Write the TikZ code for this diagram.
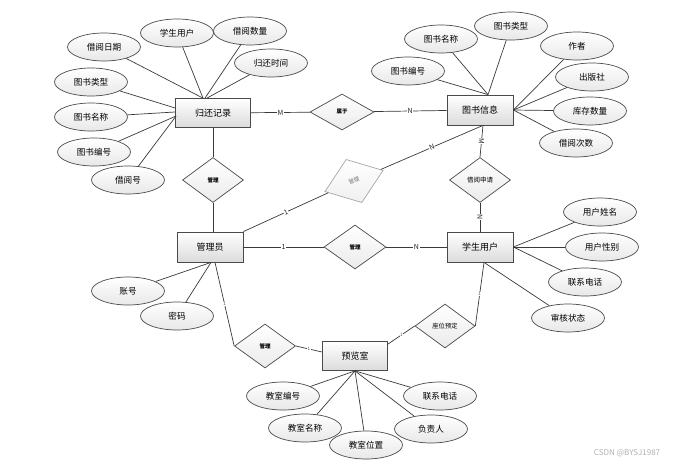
\documentclass[tikz,border=0pt]{standalone}
\usepackage{fontspec}
\setmainfont{Noto Sans CJK SC}
\usetikzlibrary{shapes.geometric,calc}
\definecolor{edgec}{HTML}{3A3A3A}
\definecolor{bordc}{HTML}{4A4A4A}
\tikzset{
  entity/.style={rectangle,draw=bordc,line width=0.8pt,top color=white,bottom color=black!14,
    minimum width=66pt,minimum height=30pt,inner sep=0pt,font=\fontsize{9}{10}\selectfont},
  attr/.style={ellipse,draw=bordc,line width=0.7pt,top color=white,bottom color=black!9,
    minimum width=73pt,minimum height=28pt,inner sep=0pt,font=\fontsize{8.6}{10}\selectfont},
  rel/.style={diamond,draw=bordc,line width=0.7pt,top color=white,bottom color=black!8,
    minimum width=61pt,minimum height=45pt,inner sep=0pt,font=\bfseries\fontsize{5.5}{6}\selectfont},
  grel/.style={rel,draw=black!35,top color=white,bottom color=black!6,text=black!55,font=\fontsize{5.5}{6}\selectfont},
  conn/.style={draw=edgec,line width=0.7pt},
  lbl/.style={fill=white,inner sep=0.8pt,font=\fontsize{7}{8}\selectfont,text=black!85},
  tick/.style={fill=white,inner sep=0.3pt,font=\fontsize{4.5}{5}\selectfont,text=black!70},
}
\begin{document}
\begin{tikzpicture}[x=1pt,y=-1pt]
\useasboundingbox[fill=white] (0,0) rectangle (684,468);

% entities
\node[entity,minimum width=75pt,minimum height=29pt] (gh) at (213,113) {归还记录};
\node[entity] (ts) at (480,110) {图书信息};
\node[entity] (admin) at (210,247) {管理员};
\node[entity] (xs) at (480,247) {学生用户};
\node[entity,minimum width=65pt,minimum height=29pt] (yl) at (355,356) {预览室};

% relationships
\node[rel,minimum width=64pt,minimum height=36pt] (sy) at (342,112) {属于};
\node[rel] (gl1) at (213,180) {管理};
\node[grel,rotate=20,minimum width=62pt,minimum height=46pt] (gd) at (354,181) {管理};
\node[rel,font=\fontsize{6.5}{7}\selectfont] (jy) at (480,180) {借阅申请};
\node[rel,minimum width=62pt,minimum height=44pt] (gl2) at (355,247) {管理};
\node[rel,minimum height=44pt] (gl3) at (265,346) {管理};
\node[rel,minimum width=60pt,minimum height=44pt,font=\fontsize{6.3}{7}\selectfont] (zw) at (445,326) {座位预定};

% relationship connectors
\draw[conn] (gh) -- node[lbl]{M} (sy);
\draw[conn] (sy) -- node[lbl]{N} (ts);
\draw[conn] (gh) -- (gl1);
\draw[conn] (gl1) -- (gl1 |- admin.north);
\draw[conn] (admin.north east) -- node[lbl,sloped,inner sep=0.3pt]{1} (gd);
\coordinate (tsb) at ($(ts.south)+(3,0)$);
\draw[conn] (gd) -- node[lbl,sloped,inner sep=0.3pt]{N} (tsb);
\draw[conn] (tsb) -- node[lbl,rotate=-90,inner sep=0.3pt]{M} (jy.north);
\draw[conn] (jy) -- node[lbl,rotate=-90,inner sep=0.3pt]{N} (xs);
\draw[conn] (admin) -- node[lbl]{1} (gl2);
\draw[conn] (gl2) -- node[lbl]{N} (xs);
\coordinate (adb) at ($(admin.south)+(5,0)$);
\draw[conn] (adb) -- node[tick]{1} (gl3.west);
\coordinate (ylw) at ($(yl.west)+(0,-4)$);
\draw[conn] (gl3.east) -- node[tick]{1} (ylw);
\coordinate (yle) at ($(yl.north east)+(0,3)$);
\draw[conn] (yle) -- node[tick]{1} (zw.west);
\coordinate (xsb) at ($(xs.south)+(4,0)$);
\draw[conn] (zw.east) -- node[tick]{1} (xsb);

% attributes of 归还记录
\node[attr] (a1) at (104,47) {借阅日期};
\node[attr] (a2) at (177,33) {学生用户};
\node[attr] (a3) at (250,31) {借阅数量};
\node[attr] (a4) at (271,63) {归还时间};
\node[attr] (a5) at (91,82) {图书类型};
\node[attr] (a6) at (91,117) {图书名称};
\node[attr] (a7) at (94,152) {图书编号};
\node[attr] (a8) at (128,180) {借阅号};
\draw[conn] (a1) -- ($(gh.north)+(-10,0)$);
\draw[conn] (a2) -- ($(gh.north)+(-10,0)$);
\draw[conn] (a3) -- ($(gh.north)+(-8,0)$);
\draw[conn] (a4) -- ($(gh.north)+(-6,0)$);
\draw[conn] (a5) -- ($(gh.west)+(0,-5)$);
\draw[conn] (a6) -- ($(gh.west)+(0,-1)$);
\draw[conn] (a7) -- ($(gh.west)+(1,3)$);
\draw[conn] (a8) -- ($(gh.west)+(1,3)$);

% attributes of 图书信息
\node[attr] (b1) at (408,71) {图书编号};
\node[attr] (b2) at (441,39) {图书名称};
\node[attr] (b3) at (511,26) {图书类型};
\node[attr] (b4) at (577,46) {作者};
\node[attr] (b5) at (592,77) {出版社};
\node[attr] (b6) at (590,111) {库存数量};
\node[attr] (b7) at (576,143) {借阅次数};
\coordinate (tst) at ($(ts.north)+(8,0)$);
\draw[conn] (b1) -- (tst);
\draw[conn] (b2) -- (tst);
\draw[conn] (b3) -- (tst);
\draw[conn] (b4) -- (ts.east);
\draw[conn] (b5) -- (ts.east);
\draw[conn] (b6) -- (ts.east);
\draw[conn] (b7) -- (ts.east);

% attributes of 学生用户
\node[attr] (c1) at (600,212) {用户姓名};
\node[attr] (c2) at (602,247) {用户性别};
\node[attr] (c3) at (585,282) {联系电话};
\node[attr] (c4) at (568,318) {审核状态};
\draw[conn] (c1) -- (xs.east);
\draw[conn] (c2) -- (xs.east);
\draw[conn] (c3) -- (xs.east);
\draw[conn] (c4) -- (xsb);

% attributes of 管理员
\node[attr] (d1) at (128,291) {账号};
\node[attr] (d2) at (177,316) {密码};
\coordinate (adb2) at ($(admin.south)+(1,0)$);
\draw[conn] (d1) -- (adb2);
\draw[conn] (d2) -- (adb2);

% attributes of 预览室
\node[attr] (e1) at (283,396) {教室编号};
\node[attr] (e2) at (305,428) {教室名称};
\node[attr] (e3) at (366,445) {教室位置};
\node[attr] (e4) at (431,429) {负责人};
\node[attr] (e5) at (440,396) {联系电话};
\foreach \e in {e1,e2,e3,e4,e5} \draw[conn] (\e) -- (yl.south);

% watermark
\node[text=black!30,font=\fontsize{8}{9}\selectfont,inner sep=0pt] (wm) at (627,453) {CSDN @BYSJ1987};
\end{tikzpicture}
\end{document}
